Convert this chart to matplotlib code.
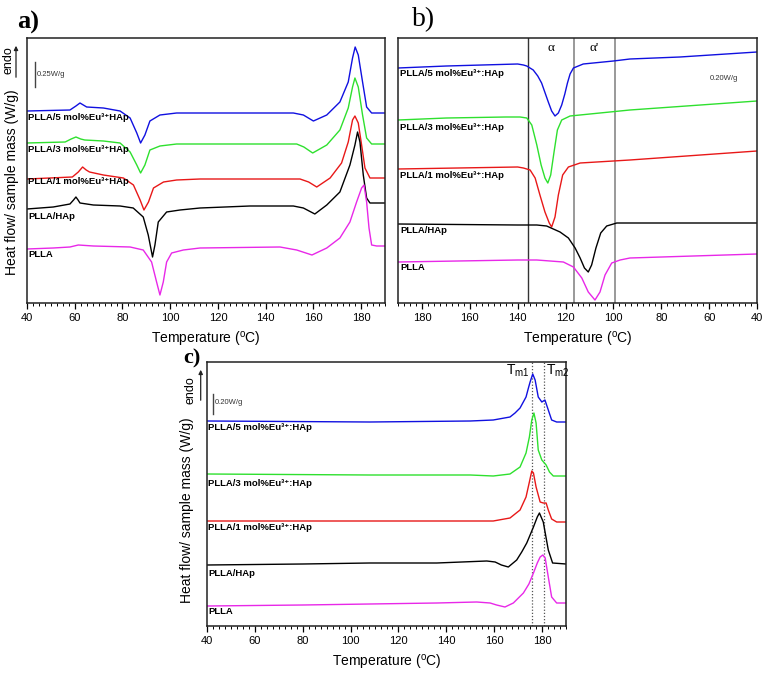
import matplotlib
matplotlib.use('Agg')
import matplotlib.pyplot as plt
from matplotlib.ticker import MultipleLocator

plt.rcParams['font.family'] = ['Liberation Sans', 'DejaVu Sans']
plt.rcParams['mathtext.fontset'] = 'custom'
plt.rcParams['mathtext.rm'] = 'Liberation Sans'
plt.rcParams['mathtext.bf'] = 'Liberation Sans:bold'
plt.rcParams['mathtext.it'] = 'Liberation Sans:italic'

# ---- panel a: heating scan, heat flow (W/g, curves shifted) ----
a_t_5 = [40, 58.0, 60.5, 62.2, 65.0, 72.0, 79.0, 83.2, 86.0, 87.6, 89.4, 91.5, 95.7, 102.7, 112.5, 151.6,
         155.8, 160, 165.6, 171.1, 174.6, 176.4, 177.5, 178.8, 180.6, 182.3, 184.4, 190]
a_hf_5 = [1.92, 1.93, 1.97, 2.00, 1.96, 1.95, 1.92, 1.85, 1.70, 1.60, 1.68, 1.82, 1.88, 1.90, 1.90, 1.90,
          1.88, 1.82, 1.88, 2.01, 2.21, 2.45, 2.56, 2.48, 2.21, 1.96, 1.90, 1.90]
a_t_3 = [40, 56, 58.5, 60.5, 62.5, 64.2, 72, 79, 83.2, 86, 87.6, 89.4, 91.5, 95.7, 102.7, 112.5, 153,
         156, 159.7, 165.6, 171.1, 174.6, 176.4, 177.4, 178.8, 180.6, 182.3, 184.4, 190]
a_hf_3 = [1.60, 1.61, 1.64, 1.66, 1.64, 1.63, 1.62, 1.60, 1.51, 1.38, 1.30, 1.38, 1.53, 1.57, 1.59, 1.59,
          1.59, 1.56, 1.50, 1.58, 1.73, 1.95, 2.16, 2.25, 2.16, 1.88, 1.65, 1.59, 1.59]
a_t_1 = [40, 59, 61.5, 63.3, 64.8, 66.2, 72, 80.4, 84.6, 87.4, 89.0, 90.9, 93.0, 97.2, 102.7, 112.5, 154.4,
         158, 161.4, 167, 171.8, 174.6, 176.4, 177.4, 178.8, 180.2, 181.6, 183.7, 190]
a_hf_1 = [1.24, 1.26, 1.31, 1.36, 1.33, 1.31, 1.28, 1.25, 1.18, 1.03, 0.93, 1.01, 1.15, 1.21, 1.23, 1.24,
          1.24, 1.21, 1.16, 1.25, 1.40, 1.61, 1.83, 1.87, 1.80, 1.58, 1.35, 1.25, 1.25]
a_t_h = [40, 51.0, 58.0, 59.5, 60.5, 61.4, 62.2, 67.8, 79.0, 84.5, 88.7, 90.8, 92.6, 93.6, 95.0, 98.5, 104.1,
         112.5, 133.4, 151.6, 155.8, 160.6, 165.6, 171.1, 175.3, 177.4, 178.5, 179.5, 180.9, 182.3, 183.7, 190]
a_hf_h = [0.94, 0.96, 0.99, 1.03, 1.06, 1.03, 1.00, 0.98, 0.97, 0.95, 0.86, 0.68, 0.46, 0.58, 0.81, 0.91, 0.93,
          0.95, 0.97, 0.97, 0.95, 0.89, 0.98, 1.11, 1.38, 1.58, 1.71, 1.61, 1.28, 1.05, 1.00, 1.00]
a_t_p = [40, 51, 58, 61.5, 67.8, 83.2, 88.7, 92.2, 94.3, 95.7, 97.1, 98.5, 100.6, 105.5, 112.5, 146.0,
         153.0, 159.4, 165.6, 171.1, 175.3, 178.1, 180.2, 181.2, 182.3, 183.3, 184.4, 186.5, 190]
a_hf_p = [0.54, 0.55, 0.56, 0.58, 0.57, 0.56, 0.53, 0.41, 0.21, 0.08, 0.21, 0.41, 0.50, 0.53, 0.55, 0.56,
          0.53, 0.48, 0.55, 0.65, 0.81, 1.01, 1.15, 1.18, 1.01, 0.75, 0.58, 0.57, 0.57]

# ---- panel b: cooling scan ----
b_t_5 = [190, 169.7, 140, 137.6, 136.2, 133.5, 131.6, 130.0, 127.2, 125.8, 124.4, 123.0, 121.6, 120.3,
         119.2, 118.1, 116.7, 112.6, 100.0, 93.1, 72.2, 40]
b_hf_5 = [2.35, 2.37, 2.39, 2.38, 2.37, 2.33, 2.27, 2.20, 2.01, 1.92, 1.87, 1.90, 1.98, 2.09,
          2.20, 2.29, 2.35, 2.39, 2.42, 2.44, 2.46, 2.51]
b_t_3 = [190, 169.7, 145, 139, 136.2, 134.1, 132.0, 130.2, 128.6, 127.4, 126.2, 124.8, 123.4, 121.6,
         118.1, 109.8, 93.1, 40]
b_hf_3 = [1.83, 1.85, 1.86, 1.86, 1.85, 1.78, 1.58, 1.38, 1.25, 1.20, 1.28, 1.51, 1.73, 1.83,
          1.87, 1.89, 1.93, 2.02]
b_t_1 = [190, 140, 137.6, 134.8, 132.7, 130.7, 128.6, 126.8, 125.8, 124.4, 123.0, 121.2, 118.8, 113.9, 93.1, 40]
b_hf_1 = [1.34, 1.36, 1.35, 1.33, 1.25, 1.08, 0.91, 0.80, 0.76, 0.86, 1.08, 1.28, 1.36, 1.40, 1.43, 1.52]
b_t_h = [190, 140, 132, 127.9, 122.3, 118.8, 116.0, 113.9, 112.1, 110.5, 109.1, 107.3, 105.3, 102.8,
         98.6, 93.1, 40]
b_hf_h = [0.79, 0.78, 0.78, 0.77, 0.71, 0.65, 0.55, 0.45, 0.35, 0.31, 0.38, 0.55, 0.70, 0.77,
          0.80, 0.80, 0.80]
b_t_p = [190, 140, 132, 120.9, 116.7, 113.2, 110.5, 107.7, 105.6, 103.5, 100.7, 97.2, 93.1, 40]
b_hf_p = [0.41, 0.43, 0.43, 0.41, 0.36, 0.25, 0.11, 0.03, 0.11, 0.28, 0.40, 0.43, 0.45, 0.49]
b_regions = [135.5, 116.5, 99.5]

# ---- panel c: second heating ----
c_t_5 = [40, 108, 150, 159.6, 166.6, 168.7, 170.8, 173.3, 174.3, 175.0, 176.1, 177.1, 178.4, 179.9,
         181.2, 182.6, 184.0, 186.1, 190]
c_hf_5 = [2.05, 2.04, 2.05, 2.06, 2.09, 2.13, 2.18, 2.29, 2.38, 2.44, 2.52, 2.46, 2.29, 2.24,
          2.26, 2.16, 2.06, 2.04, 2.04]
c_t_3 = [40, 108, 150, 159.6, 166.6, 170.8, 173.3, 174.7, 175.7, 176.6, 177.5, 178.4, 179.9, 181.7,
         183.1, 184.7, 190]
c_hf_3 = [1.52, 1.51, 1.51, 1.50, 1.52, 1.59, 1.73, 1.89, 2.06, 2.13, 2.03, 1.76, 1.66, 1.61,
          1.54, 1.50, 1.50]
c_t_1 = [40, 108, 150, 159.6, 166.6, 170.8, 173.3, 174.7, 175.7, 176.4, 177.5, 179.2, 180.5, 181.7,
         182.6, 184.0, 186.1, 190]
c_hf_1 = [1.05, 1.05, 1.05, 1.05, 1.08, 1.16, 1.29, 1.44, 1.55, 1.53, 1.39, 1.24, 1.23, 1.23,
          1.16, 1.07, 1.04, 1.04]
c_t_h = [40, 80, 108, 136, 156.9, 160.4, 163, 165.9, 169.4, 171.5, 173.6, 176.4, 178.0, 178.9,
         180.5, 182.6, 184.4, 190]
c_hf_h = [0.61, 0.62, 0.63, 0.63, 0.65, 0.64, 0.61, 0.59, 0.66, 0.74, 0.83, 0.99, 1.09, 1.13,
          1.04, 0.76, 0.63, 0.62]
c_t_p = [40, 80, 108, 136, 152.7, 158.3, 161, 164.5, 168, 172.2, 174.5, 176.4, 178, 179.2, 180.3,
         181.3, 182.6, 184.0, 186.1, 190]
c_hf_p = [0.20, 0.21, 0.22, 0.23, 0.24, 0.23, 0.21, 0.19, 0.23, 0.33, 0.42, 0.53, 0.63, 0.69, 0.71,
          0.68, 0.49, 0.29, 0.23, 0.23]
c_tm = [175.8, 180.9]

labels_a = ['PLLA/5 mol%Eu³⁺HAp', 'PLLA/3 mol%Eu³⁺HAp', 'PLLA/1 mol%Eu³⁺HAp', 'PLLA/HAp', 'PLLA']
labels_bc = ['PLLA/5 mol%Eu³⁺:HAp', 'PLLA/3 mol%Eu³⁺:HAp', 'PLLA/1 mol%Eu³⁺:HAp', 'PLLA/HAp', 'PLLA']
colors = ['#1010e0', '#2ee02e', '#e81818', 'black', '#e828e8']

W, H = 767, 674


def fx(px):
    return px / W


def fy(py):
    return 1 - py / H


def style_axes(ax, xlim):
    ax.set_xlim(*xlim)
    ax.xaxis.set_major_locator(MultipleLocator(20))
    ax.xaxis.set_minor_locator(MultipleLocator(2.5))
    ax.tick_params(axis='x', which='major', direction='out', length=4, width=0.9, labelsize=8, pad=3)
    ax.tick_params(axis='x', which='minor', direction='out', length=2, width=0.7)
    ax.set_yticks([])
    for s in ax.spines.values():
        s.set_linewidth(1.1)
        s.set_color('#222222')
    ax.set_xlabel('Temperature ($^{\\mathrm{o}}$C)', fontsize=10, labelpad=5)


def put_label(ax, x, y, text):
    ax.text(x, y, text, fontsize=6.8, fontweight='bold', va='center', ha='left',
            family=['Liberation Sans', 'DejaVu Sans'])


fig = plt.figure(figsize=(W / 100, H / 100), dpi=100)

# panel a
ax_a = fig.add_axes([fx(27), fy(303), fx(385) - fx(27), fy(38) - fy(303)])
for t, hf, c in zip([a_t_5, a_t_3, a_t_1, a_t_h, a_t_p], [a_hf_5, a_hf_3, a_hf_1, a_hf_h, a_hf_p], colors):
    ax_a.plot(t, hf, color=c, lw=1.0)
ax_a.set_ylim(0, 2.65)
style_axes(ax_a, (40, 190))
for lab, y in zip(labels_a, [1.85, 1.54, 1.21, 0.86, 0.48]):
    put_label(ax_a, 40.6, y, lab)
ax_a.plot([43.2, 43.2], [2.16, 2.41], color='#444444', lw=1)
ax_a.text(44.2, 2.28, '0.25W/g', fontsize=5.5, va='center', ha='left', color='#333333')

# panel b
ax_b = fig.add_axes([fx(398), fy(303), fx(757) - fx(398), fy(38) - fy(303)])
for t, hf, c in zip([b_t_5, b_t_3, b_t_1, b_t_h, b_t_p], [b_hf_5, b_hf_3, b_hf_1, b_hf_h, b_hf_p], colors):
    ax_b.plot(t, hf, color=c, lw=1.0)
for xv, c, lw in zip(b_regions, ['#333333', '#999999', '#999999'], [1.0, 1.4, 1.4]):
    ax_b.axvline(xv, color=c, lw=lw, zorder=0)
ax_b.set_ylim(0, 2.65)
style_axes(ax_b, (190, 40))
for lab, y in zip(labels_bc, [2.29, 1.76, 1.27, 0.72, 0.35]):
    put_label(ax_b, 189.2, y, lab)
ax_b.text(126, 2.55, 'α', fontsize=9.5, family='Liberation Serif', ha='center', va='center')
ax_b.text(108, 2.55, "α'", fontsize=9.5, family='Liberation Serif', ha='center', va='center')
ax_b.text(54, 2.25, '0.20W/g', fontsize=5.5, ha='center', va='center', color='#333333')

# panel c
ax_c = fig.add_axes([fx(207), fy(626), fx(566) - fx(207), fy(362) - fy(626)])
for t, hf, c in zip([c_t_5, c_t_3, c_t_1, c_t_h, c_t_p], [c_hf_5, c_hf_3, c_hf_1, c_hf_h, c_hf_p], colors):
    ax_c.plot(t, hf, color=c, lw=1.0)
for xv in c_tm:
    ax_c.axvline(xv, color='#555555', lw=0.9, ls=(0, (1, 1.5)), zorder=0)
ax_c.set_ylim(0, 2.64)
style_axes(ax_c, (40, 190))
for lab, y in zip(labels_bc, [1.98, 1.43, 0.98, 0.53, 0.14]):
    put_label(ax_c, 40.6, y, lab)
ax_c.plot([42.4, 42.4], [2.12, 2.32], color='#444444', lw=1)
ax_c.text(43.3, 2.23, '0.20W/g', fontsize=5.5, va='center', ha='left', color='#333333')
ax_c.text(174.8, 2.55, r'T$_{\mathrm{m1}}$', fontsize=10, ha='right', va='center')
ax_c.text(181.8, 2.55, r'T$_{\mathrm{m2}}$', fontsize=10, ha='left', va='center')

# y labels and endo arrows
ylab = 'Heat flow/ sample mass (W/g)'
fig.text(fx(12), fy(182), ylab, rotation=90, fontsize=10, ha='center', va='center')
fig.text(fx(187), fy(510), ylab, rotation=90, fontsize=10, ha='center', va='center')
fig.text(fx(8), fy(60), 'endo', rotation=90, fontsize=9, ha='center', va='center')
fig.text(fx(190), fy(390), 'endo', rotation=90, fontsize=9, ha='center', va='center')
for x0, ytop, ybot in [(16, 43, 80), (200.7, 367, 403)]:
    fig.add_artist(matplotlib.patches.FancyArrowPatch((fx(x0), fy(ybot)), (fx(x0), fy(ytop)),
                                                      transform=fig.transFigure, arrowstyle='-|>',
                                                      mutation_scale=6, lw=0.9, color='#222222'))

# panel letters
fig.text(fx(17), fy(22), 'a)', fontsize=19, fontweight='bold', family='Liberation Serif', ha='left', va='center')
fig.text(fx(412), fy(20), 'b)', fontsize=20, family='Liberation Serif', ha='left', va='center')
fig.text(fx(183), fy(358), 'c)', fontsize=16, fontweight='bold', family='Liberation Serif', ha='left', va='center')

fig.savefig('out.png', dpi=100)
